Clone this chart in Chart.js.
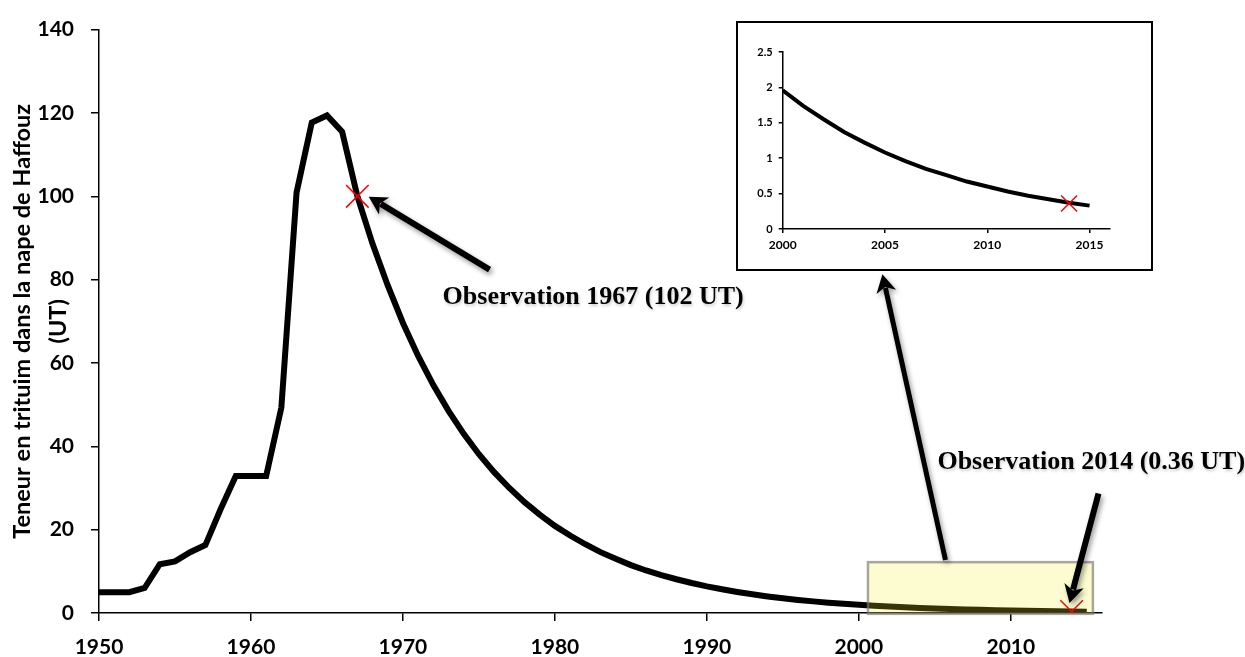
<!DOCTYPE html>
<html>
<head>
<meta charset="utf-8">
<script src="https://cdn.jsdelivr.net/npm/chart.js@4.4.1/dist/chart.umd.min.js"></script>
<style>
  html, body { margin: 0; padding: 0; background: #fff; }
  #wrap { position: relative; width: 1245px; height: 657px; overflow: hidden; }
  #main { position: absolute; left: 0; top: 0; }
  #insetBox {
    position: absolute; left: 736px; top: 21px; width: 417px; height: 250px;
    box-sizing: border-box; border: 2px solid #000; background: #fff;
  }
  #inset { display: block; }
</style>
</head>
<body>
<div id="wrap">
  <canvas id="main" width="1245" height="657"></canvas>
  <div id="insetBox"><canvas id="inset" width="413" height="246"></canvas></div>
</div>
<script>
// annual tritium content of the Haffouz aquifer (UT)
const years = [
  1950, 1951, 1952, 1953, 1954, 1955, 1956, 1957, 1958, 1959,
  1960, 1961, 1962, 1963, 1964, 1965, 1966, 1967, 1968, 1969,
  1970, 1971, 1972, 1973, 1974, 1975, 1976, 1977, 1978, 1979,
  1980, 1981, 1982, 1983, 1984, 1985, 1986, 1987, 1988, 1989,
  1990, 1991, 1992, 1993, 1994, 1995, 1996, 1997, 1998, 1999,
  2000, 2001, 2002, 2003, 2004, 2005, 2006, 2007, 2008, 2009,
  2010, 2011, 2012, 2013, 2014, 2015
];
const tritium = [
  5.0, 5.0, 5.0, 6.0, 11.7, 12.4, 14.6, 16.3, 24.9, 32.9,
  32.9, 32.9, 49.3, 100.9, 117.7, 119.4, 115.5, 100.0, 88.6, 78.6,
  69.6, 61.7, 54.7, 48.5, 43.0, 38.1, 33.8, 30.0, 26.6, 23.6,
  20.9, 18.6, 16.5, 14.6, 13.0, 11.5, 10.2, 9.1, 8.1, 7.2,
  6.4, 5.7, 5.05, 4.48, 3.98, 3.53, 3.14, 2.79, 2.48, 2.20,
  1.96, 1.74, 1.55, 1.37, 1.22, 1.08, 0.96, 0.85, 0.76, 0.67,
  0.60, 0.53, 0.47, 0.42, 0.37, 0.33
];

const obsYears = [1967, 2014];
const obsValues = [100, 0.36];
const obsLabels = ['Observation 1967 (102 UT)', 'Observation 2014 (0.36 UT)'];

const yTitle = ['Teneur en trituim dans la nape de Haffouz', '(UT)'];

const xTicks = [1950, 1960, 1970, 1980, 1990, 2000, 2010];
const insetXTicks = [2000, 2005, 2010, 2015];

// zoomed window shown in the inset
const zoomFrom = 2000;
const zoomTo = 2015;

const tickFont = {family: 'Lato', weight: 'bold', size: 21};
const insetFont = {family: 'Lato', weight: 'bold', size: 12};

function useTicks(values) {
  return (scale) => {
    scale.ticks = values.map((v) => ({value: v}));
  };
}
const plain = (v) => String(v);

function drawArrow(ctx, x1, y1, x2, y2, width) {
  const ang = Math.atan2(y2 - y1, x2 - x1);
  const len = 18, half = 10;
  const bx = x2 - Math.cos(ang) * len;
  const by = y2 - Math.sin(ang) * len;
  ctx.lineWidth = width;
  ctx.beginPath();
  ctx.moveTo(x1, y1);
  ctx.lineTo(bx + Math.cos(ang) * 4, by + Math.sin(ang) * 4);
  ctx.stroke();
  ctx.beginPath();
  ctx.moveTo(x2, y2);
  ctx.lineTo(bx - Math.sin(ang) * half, by + Math.cos(ang) * half);
  ctx.lineTo(bx + Math.cos(ang) * 5, by + Math.sin(ang) * 5);
  ctx.lineTo(bx + Math.sin(ang) * half, by - Math.cos(ang) * half);
  ctx.closePath();
  ctx.fill();
}

// highlight box and callouts, placed in data units
const highlight = {xMin: 2000.6, xMax: 2015.4, yMin: -0.2, yMax: 12.2};
const arrows = [
  {from: [1975.7, 82.4], to: [1967.75, 99.9], width: 6},
  {from: [2005.7, 12.7], to: [2001.55, 81.3], width: 5},
  {from: [2015.77, 28.7], to: [2013.86, 2.4], width: 6}
];
const notePos = [[1972.61, 74.06], [2005.17, 34.64]];

const annotations = {
  id: 'annotations',
  afterDatasetDraw(chart, args) {
    if (args.index !== 0) return;
    const {ctx, scales: {x, y}} = chart;
    const l = x.getPixelForValue(highlight.xMin), r = x.getPixelForValue(highlight.xMax);
    const t = y.getPixelForValue(highlight.yMax), b = y.getPixelForValue(highlight.yMin);
    ctx.save();
    ctx.fillStyle = 'rgba(240, 240, 40, 0.22)';
    ctx.fillRect(l, t, r - l, b - t);
    ctx.strokeStyle = 'rgba(120, 120, 120, 0.65)';
    ctx.lineWidth = 2.5;
    ctx.strokeRect(l, t, r - l, b - t);
    ctx.restore();
  },
  afterDraw(chart) {
    const {ctx, scales: {x, y}} = chart;
    ctx.save();
    ctx.shadowColor = 'rgba(0, 0, 0, 0.4)';
    ctx.shadowBlur = 5;
    ctx.shadowOffsetX = 2;
    ctx.shadowOffsetY = 3;
    ctx.strokeStyle = '#000';
    ctx.fillStyle = '#000';
    arrows.forEach((a) => {
      drawArrow(ctx,
        x.getPixelForValue(a.from[0]), y.getPixelForValue(a.from[1]),
        x.getPixelForValue(a.to[0]), y.getPixelForValue(a.to[1]), a.width);
    });
    ctx.shadowColor = 'rgba(0, 0, 0, 0.2)';
    ctx.shadowBlur = 3;
    ctx.shadowOffsetX = 1;
    ctx.shadowOffsetY = 2;
    ctx.font = 'bold 26px "Liberation Serif"';
    ctx.textBaseline = 'alphabetic';
    ctx.textAlign = 'left';
    obsLabels.forEach((label, i) => {
      ctx.fillText(label, x.getPixelForValue(notePos[i][0]), y.getPixelForValue(notePos[i][1]));
    });
    ctx.restore();
  }
};

new Chart(document.getElementById('main'), {
  type: 'line',
  data: {
    datasets: [{
      label: 'Teneur en tritium',
      data: years.map((year, i) => ({x: year, y: tritium[i]})),
      borderColor: '#000',
      borderWidth: 6,
      borderJoinStyle: 'miter',
      pointRadius: 0,
      tension: 0,
      fill: false,
      order: 2
    }, {
      type: 'scatter',
      label: 'Observations',
      data: obsYears.map((year, i) => ({x: year, y: obsValues[i]})),
      pointStyle: 'crossRot',
      pointRadius: 16,
      borderColor: '#ff0000',
      borderWidth: 1.5,
      order: 1
    }]
  },
  options: {
    responsive: false,
    animation: false,
    layout: {padding: {top: 27, right: 143, left: 0, bottom: 0}},
    plugins: {legend: {display: false}, tooltip: {enabled: false}},
    scales: {
      x: {
        type: 'linear',
        min: 1950,
        max: 2016,
        afterBuildTicks: useTicks(xTicks),
        afterFit: (s) => { s.height = 44; },
        ticks: {font: tickFont, color: '#000', padding: 14, maxRotation: 0, callback: plain},
        grid: {drawOnChartArea: false, tickLength: 8, color: '#000', lineWidth: 1.5},
        border: {color: '#000', width: 1.5}
      },
      y: {
        min: 0,
        max: 140,
        afterFit: (s) => { s.width = 99; },
        ticks: {stepSize: 20, font: tickFont, color: '#000', padding: 17, callback: plain},
        grid: {drawOnChartArea: false, tickLength: 8, color: '#000', lineWidth: 1.5},
        border: {color: '#000', width: 1.5},
        title: {
          display: true,
          text: yTitle,
          color: '#000',
          font: {family: 'Lato', weight: 'bold', size: 23.5, lineHeight: 1.55},
          padding: {top: 4, bottom: 0}
        }
      }
    }
  },
  plugins: [annotations]
});

const zoomIdx = years.map((y, i) => i).filter((i) => years[i] >= zoomFrom && years[i] <= zoomTo);
const zoomObs = obsYears.map((y, i) => i).filter((i) => obsYears[i] >= zoomFrom);

new Chart(document.getElementById('inset'), {
  type: 'line',
  data: {
    datasets: [{
      label: 'Teneur en tritium',
      data: zoomIdx.map((i) => ({x: years[i], y: tritium[i]})),
      borderColor: '#000',
      borderWidth: 4,
      pointRadius: 0,
      tension: 0,
      fill: false,
      order: 2
    }, {
      type: 'scatter',
      label: 'Observation',
      data: zoomObs.map((i) => ({x: obsYears[i], y: obsValues[i]})),
      pointStyle: 'crossRot',
      pointRadius: 11.3,
      borderColor: '#ff0000',
      borderWidth: 1.5,
      order: 1
    }]
  },
  options: {
    responsive: false,
    animation: false,
    layout: {padding: {top: 29, right: 41, left: 0, bottom: 0}},
    plugins: {legend: {display: false}, tooltip: {enabled: false}},
    scales: {
      x: {
        type: 'linear',
        min: 2000,
        max: 2016,
        afterBuildTicks: useTicks(insetXTicks),
        afterFit: (s) => { s.height = 40; },
        ticks: {font: insetFont, color: '#000', padding: 5, maxRotation: 0, callback: plain},
        grid: {drawOnChartArea: false, tickLength: 4, color: '#000', lineWidth: 1.5},
        border: {color: '#000', width: 1.5}
      },
      y: {
        min: 0,
        max: 2.5,
        afterFit: (s) => { s.width = 44.7; },
        ticks: {stepSize: 0.5, font: {family: 'Lato', weight: 'bold', size: 11}, color: '#000', padding: 6, callback: plain},
        grid: {drawOnChartArea: false, tickLength: 4, color: '#000', lineWidth: 1.5},
        border: {color: '#000', width: 1.5}
      }
    }
  }
});
</script>
</body>
</html>
